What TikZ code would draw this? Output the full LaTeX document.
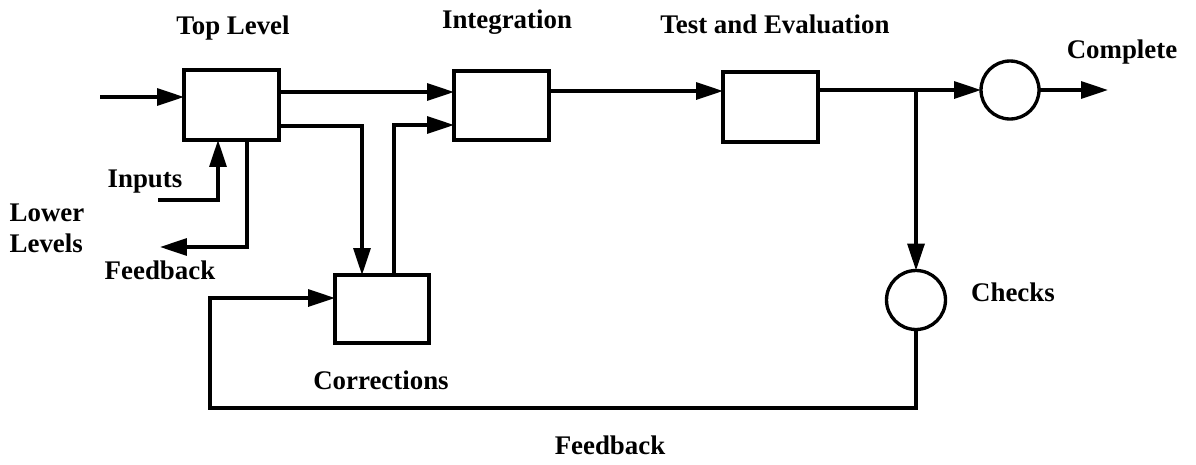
\documentclass[tikz,border=0pt]{standalone}
\usepackage{fontspec}
\setmainfont{Liberation Serif}
\usetikzlibrary{arrows.meta}
\begin{document}
\begin{tikzpicture}[x=0.02cm,y=-0.02cm,
  line width=1.9pt,
  box/.style={draw, rectangle, inner sep=0pt, outer sep=0pt},
  circ/.style={draw, circle, inner sep=0pt, outer sep=0pt},
  arr/.style={-{Triangle[length=0.54cm,width=0.34cm]}},
  lbl/.style={font=\bfseries\fontsize{15.3}{17.5}\selectfont, inner sep=0pt}]
\useasboundingbox (0,0) rectangle (1196,464);
% blocks
\node[box, minimum width=1.9cm, minimum height=1.4cm] (top) at (231.5,105) {};
\node[box, minimum width=1.9cm, minimum height=1.38cm] (integ) at (501.5,105.5) {};
\node[box, minimum width=1.9cm, minimum height=1.4cm] (test) at (770.5,107) {};
\node[box, minimum width=1.88cm, minimum height=1.36cm] (corr) at (382,309) {};
\node[circ, minimum size=1.16cm] (comp) at (1010,90) {};
\node[circ, minimum size=1.18cm] (chk) at (916,300) {};
% helper coordinates
\coordinate (inS) at (100,97);
\coordinate (y92) at (0,92);
\coordinate (y126) at (0,126);
\coordinate (x362) at (362,0);
\coordinate (x394) at (394,0);
\coordinate (y125) at (0,125);
\coordinate (y91) at (0,91);
\coordinate (br) at (916,90);
\coordinate (out) at (1108,90);
\coordinate (fbR) at (916,408);
\coordinate (fbL) at (210,408);
\coordinate (y298) at (0,298);
\coordinate (inpS) at (158,200);
\coordinate (x218) at (218,0);
\coordinate (x247) at (247,0);
\coordinate (fbE) at (160,247);
% connectors
\draw[arr] (inS) -- (inS -| top.west);
\draw[arr] (top.east |- y92) -- (integ.west |- y92);
\draw[arr] (top.east |- y126) -| (corr.north -| x362);
\draw[arr] (corr.north -| x394) |- (integ.west |- y125);
\draw[arr] (integ.east |- y91) -- (test.west |- y91);
\draw[arr] (test.east |- comp.west) -- (comp.west);
\draw[arr] (comp.east) -- (out);
\draw[arr] (br) -- (chk.north);
\draw[arr] (chk.south) -- (fbR) -- (fbL) |- (corr.west |- y298);
\draw[arr] (inpS) -| (top.south -| x218);
\draw[arr] (top.south -| x247) |- (fbE);
% labels
\node[lbl] (tTop) at (233,28) {Top Level};
\node[lbl] (tInt) at (507,22) {Integration};
\node[lbl] (tTest) at (775,24) {Test and Evaluation};
\node[lbl] (tComp) at (1122,52) {Complete};
\node[lbl] (tChk) at (1013,292) {Checks};
\node[lbl] (tInp) at (145,182) {Inputs};
\node[lbl] (tFb1) at (160,270) {Feedback};
\node[lbl, align=left, anchor=west] (tLow) at (8,228) {Lower\\Levels};
\node[lbl] (tCorr) at (381,380) {Corrections};
\node[lbl] (tFb2) at (610,445) {Feedback};
\end{tikzpicture}
\end{document}
